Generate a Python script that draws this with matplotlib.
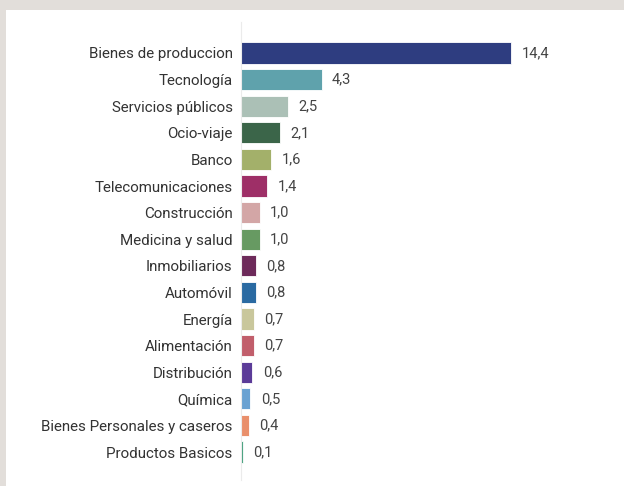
import matplotlib
matplotlib.use("Agg")
import matplotlib.pyplot as plt
from matplotlib.patches import Rectangle

categories = ["Bienes de produccion", "Tecnología", "Servicios públicos", "Ocio-viaje",
              "Banco", "Telecomunicaciones", "Construcción", "Medicina y salud",
              "Inmobiliarios", "Automóvil", "Energía", "Alimentación", "Distribución",
              "Química", "Bienes Personales y caseros", "Productos Basicos"]
values = [14.4, 4.3, 2.5, 2.1, 1.6, 1.4, 1.0, 1.0, 0.8, 0.8, 0.7, 0.7, 0.6, 0.5, 0.4, 0.1]
colors = ["#2e3d80", "#5fa2ac", "#abc0b6", "#3b6549", "#a3b06a", "#9e2f67", "#d3a6a6",
          "#679a62", "#6d2a5a", "#2a6aa2", "#c9c79c", "#c15e6b", "#5b3b98", "#6aa2d2",
          "#e98f6b", "#46a07e"]

plt.rcParams['font.family'] = ['Roboto', 'DejaVu Sans']

fig = plt.figure(figsize=(6.24, 4.86), dpi=100)
fig.patch.set_facecolor("#e2deda")
fig.patches.append(Rectangle((6/624, 0), 1, (486-10)/486, transform=fig.transFigure,
                             facecolor="white", edgecolor="none", zorder=-10))

ax = fig.add_axes([241/624, 6/486, 360/624, 458/486])
ax.set_zorder(5)
ax.set_facecolor("none")
y = list(range(len(categories)))
ax.barh(y, values, height=0.8, color=colors, edgecolor="white", linewidth=0.6)
ax.set_xlim(0, 360/18.75)
ax.set_ylim(15 + 1.05, -1.165)
ax.set_yticks(y)
ax.set_yticklabels(categories, fontsize=10.9, color="#333333")
ax.tick_params(axis='y', length=0, pad=6)
ax.set_xticks([])
for s in ["top", "right", "bottom"]:
    ax.spines[s].set_visible(False)
ax.spines["left"].set_color("#ebebeb")
ax.spines["left"].set_linewidth(0.8)

for yi, v in zip(y, values):
    ax.annotate(f"{v:.1f}".replace(".", ","), (v, yi), xytext=(7.5, 0),
                textcoords="offset points", va="center", ha="left",
                fontsize=10.5, color="#444444")

fig.savefig("out.png", dpi=100)
